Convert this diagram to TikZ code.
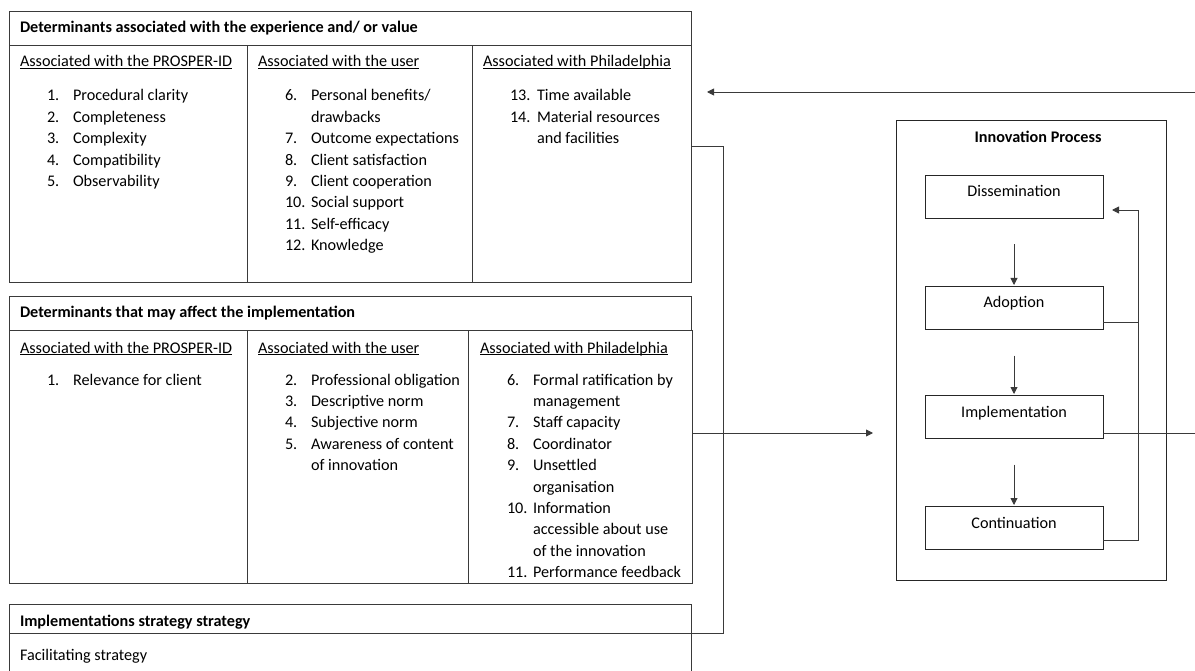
\documentclass[tikz,border=0pt]{standalone}
\usepackage{fontspec}
\setmainfont{Carlito}
\usetikzlibrary{arrows.meta}
\definecolor{lc}{HTML}{3A3A3A}
\newcommand\fs{\fontsize{16.2}{19}\selectfont}
\newcommand\myul[1]{\setbox0\hbox{#1}\rlap{\rule[-2.2pt]{\wd0}{0.9pt}}\box0}
\begin{document}
\begin{tikzpicture}[x=1pt,y=-1pt,line width=0.9pt,
  cell/.style={draw=lc, rectangle, inner sep=0pt, outer sep=0pt, anchor=north west},
  txt/.style={anchor=base west, inner sep=0pt, outer sep=0pt, font=\fs, yshift=-1pt},
  btxt/.style={anchor=base west, inner sep=0pt, outer sep=0pt, font=\fs\bfseries, yshift=-1pt},
  arr/.style={draw=lc, -{Triangle[length=7pt,width=7pt]}},
  conn/.style={draw=lc},
  pbox/.style={draw=black!85, rectangle, inner sep=0pt, outer sep=0pt, anchor=north west,
    minimum width=178pt, text height=22pt, text depth=21.5pt, font=\fs}]
\useasboundingbox (0,0) rectangle (1195,671);
\clip (0,0) rectangle (1195,671);

% ---------- top table ----------
\node[cell, minimum width=682pt, minimum height=271pt] (T1) at (9,11) {};
\node[cell, minimum width=682pt, minimum height=34pt] (T1h) at (9,11) {};
\node[cell, minimum width=238pt, minimum height=237pt] (T1a) at (9,45) {};
\node[cell, minimum width=225pt, minimum height=237pt] (T1b) at (247,45) {};
\node[cell, minimum width=219pt, minimum height=237pt] (T1c) at (472,45) {};
\node[btxt] (t1title) at (20,32) {Determinants associated with the experience and/ or value};
\node[txt] (t1ha) at (20,66) {\myul{Associated with the PROSPER-ID}};
\node[txt] (t1hb) at (258,66) {\myul{Associated with the user}};
\node[txt] (t1hc) at (483,66) {\myul{Associated with Philadelphia}};

\node[txt] (a1n) at (47,100) {1.};   \node[txt] (a1) at (73,100) {Procedural clarity};
\node[txt] (a2n) at (47,121.4) {2.}; \node[txt] (a2) at (73,121.4) {Completeness};
\node[txt] (a3n) at (47,142.8) {3.}; \node[txt] (a3) at (73,142.8) {Complexity};
\node[txt] (a4n) at (47,164.2) {4.}; \node[txt] (a4) at (73,164.2) {Compatibility};
\node[txt] (a5n) at (47,185.6) {5.}; \node[txt] (a5) at (73,185.6) {Observability};

\node[txt] (b6n) at (285,100) {6.};     \node[txt] (b6) at (311,100) {Personal benefits/};
                                         \node[txt] (b6b) at (311,121.4) {drawbacks};
\node[txt] (b7n) at (285,142.8) {7.};   \node[txt] (b7) at (311,142.8) {Outcome expectations};
\node[txt] (b8n) at (285,164.2) {8.};   \node[txt] (b8) at (311,164.2) {Client satisfaction};
\node[txt] (b9n) at (285,185.6) {9.};   \node[txt] (b9) at (311,185.6) {Client cooperation};
\node[txt] (b10n) at (285,207) {10.};   \node[txt] (b10) at (311,207) {Social support};
\node[txt] (b11n) at (285,228.4) {11.}; \node[txt] (b11) at (311,228.4) {Self-efficacy};
\node[txt] (b12n) at (285,249.8) {12.}; \node[txt] (b12) at (311,249.8) {Knowledge};

\node[txt] (c13n) at (510,100) {13.};   \node[txt] (c13) at (537,100) {Time available};
\node[txt] (c14n) at (510,121.4) {14.}; \node[txt] (c14) at (537,121.4) {Material resources};
                                         \node[txt] (c14b) at (537,142.8) {and facilities};

% ---------- middle table ----------
\node[cell, minimum width=682pt, minimum height=287pt] (M) at (9,296) {};
\node[cell, minimum width=682pt, minimum height=34pt] (Mh) at (9,296) {};
\node[cell, minimum width=238pt, minimum height=253pt] (M1) at (9,330) {};
\node[cell, minimum width=221pt, minimum height=253pt] (M2) at (247,330) {};
\node[cell, minimum width=224pt, minimum height=253pt, fill=white] (M3) at (468,330) {};
\node[btxt] (mtitle) at (20,317) {Determinants that may affect the implementation};
\node[txt] (mha) at (20,352) {\myul{Associated with the PROSPER-ID}};
\node[txt] (mhb) at (258,352) {\myul{Associated with the user}};
\node[txt] (mhc) at (480,352) {\myul{Associated with Philadelphia}};

\node[txt] (d1n) at (47,384) {1.}; \node[txt] (d1) at (73,384) {Relevance for client};

\node[txt] (e2n) at (285,384) {2.};   \node[txt] (e2) at (311,384) {Professional obligation};
\node[txt] (e3n) at (285,405.4) {3.}; \node[txt] (e3) at (311,405.4) {Descriptive norm};
\node[txt] (e4n) at (285,426.8) {4.}; \node[txt] (e4) at (311,426.8) {Subjective norm};
\node[txt] (e5n) at (285,448.2) {5.}; \node[txt] (e5) at (311,448.2) {Awareness of content};
                                       \node[txt] (e5b) at (311,469.6) {of innovation};

\node[txt] (f6n) at (507,384) {6.};     \node[txt] (f6) at (533,384) {Formal ratification by};
                                         \node[txt] (f6b) at (533,405.4) {management};
\node[txt] (f7n) at (507,426.8) {7.};   \node[txt] (f7) at (533,426.8) {Staff capacity};
\node[txt] (f8n) at (507,448.2) {8.};   \node[txt] (f8) at (533,448.2) {Coordinator};
\node[txt] (f9n) at (507,469.6) {9.};   \node[txt] (f9) at (533,469.6) {Unsettled};
                                         \node[txt] (f9b) at (533,491) {organisation};
\node[txt] (f10n) at (507,512.4) {10.}; \node[txt] (f10) at (533,512.4) {Information};
                                         \node[txt] (f10b) at (533,533.8) {accessible about use};
                                         \node[txt] (f10c) at (533,555.2) {of the innovation};
\node[txt] (f11n) at (507,576.6) {11.}; \node[txt] (f11) at (533,576.6) {Performance feedback};

% ---------- bottom table ----------
\node[cell, minimum width=682pt, minimum height=29pt] (BH) at (9,604) {};
\node[cell, minimum width=682pt, minimum height=60pt] (BB) at (9,633) {};
\node[btxt] (btitle) at (20,625) {Implementations strategy strategy};
\node[txt] (btext) at (20,659) {Facilitating strategy};

% ---------- innovation process ----------
\node[cell, draw=black!85, minimum width=270pt, minimum height=460pt] (IP) at (896,120) {};
\node[btxt, anchor=base] (iptitle) at (1038,142) {Innovation Process};
\node[pbox] (Dis) at (925,175) {Dissemination};
\node[pbox] (Ado) at (925,286) {Adoption};
\node[pbox] (Imp) at (925,395) {Implementation};
\node[pbox] (Con) at (925,506) {Continuation};

\draw[arr] ([yshift=-26pt]Dis.south) -- ([yshift=1pt]Ado.north);
\draw[arr] ([yshift=-26pt]Ado.south) -- ([yshift=1pt]Imp.north);
\draw[arr] ([yshift=-26pt]Imp.south) -- ([yshift=1pt]Con.north);

\coordinate (fbtop) at (1138,210);
\coordinate (fbin) at (1112,210);
\coordinate (adoR) at ([yshift=7pt]Ado.south east);
\coordinate (conR) at ([yshift=9pt]Con.south east);
\draw[arr] (conR) -| (fbtop) -- (fbin);
\draw[conn] (adoR) -- (adoR -| fbtop);

% ---------- connectors ----------
\coordinate (bus) at (723,400);
\coordinate (midy) at (0,433);
\coordinate (arrIn) at (873,433);
\coordinate (edgeR) at (1195,433);
\coordinate (edgeT) at (1195,92);
\coordinate (arrTop) at (707,92);
\draw[conn] (T1.east) -| (bus |- BH.south) -- (BH.south east);
\draw[arr] (M3.east |- midy) -- (arrIn);
\draw[conn] (Imp.east |- midy) -- (edgeR);
\draw[arr] (edgeT) -- (arrTop);
\end{tikzpicture}
\end{document}
